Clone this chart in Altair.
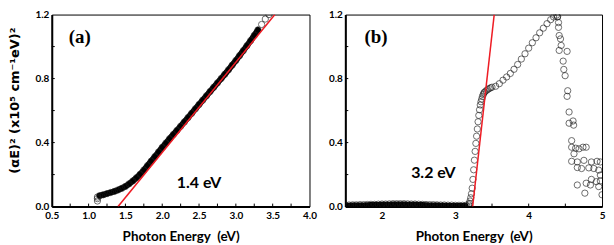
import altair as alt
import pandas as pd

# ---------------- panel (a) data ----------------
a_energy = [1.12, 1.15, 1.20, 1.25, 1.30, 1.35, 1.40, 1.45, 1.50, 1.55, 1.60, 1.65,
            1.70, 1.75, 1.80, 1.85, 1.90, 1.95, 2.00, 2.05, 2.10, 2.15, 2.20, 2.25,
            2.30, 2.35, 2.40, 2.45, 2.50, 2.55, 2.60, 2.65, 2.70, 2.75, 2.80, 2.85,
            2.90, 2.95, 3.00, 3.05, 3.10, 3.15, 3.20, 3.25, 3.30, 3.35, 3.40, 3.45]
a_value = [0.060, 0.068, 0.074, 0.081, 0.088, 0.095, 0.104, 0.114, 0.126, 0.142, 0.160, 0.180,
           0.202, 0.228, 0.256, 0.284, 0.312, 0.341, 0.370, 0.397, 0.424, 0.450, 0.476, 0.502,
           0.529, 0.556, 0.583, 0.611, 0.638, 0.665, 0.692, 0.719, 0.746, 0.773, 0.800, 0.827,
           0.855, 0.884, 0.913, 0.943, 0.974, 1.005, 1.037, 1.070, 1.104, 1.138, 1.172, 1.200]
a_extra_energy = [1.12, 1.12]
a_extra_value = [0.035, 0.050]
a_fit_energy = [1.40, 3.53]
a_fit_value = [0.0, 1.2]

# ---------------- panel (b) data ----------------
b_energy = [1.50, 1.55, 1.60, 1.65, 1.70, 1.75, 1.80, 1.85, 1.90, 1.95, 2.00, 2.05,
            2.10, 2.15, 2.20, 2.25, 2.30, 2.35, 2.40, 2.45, 2.50, 2.55, 2.60, 2.65,
            2.70, 2.75, 2.80, 2.85, 2.90, 2.95, 3.00, 3.05, 3.10, 3.15,
            3.18, 3.19, 3.20, 3.21, 3.22, 3.23, 3.24, 3.25, 3.26, 3.27, 3.28, 3.29,
            3.30, 3.31, 3.32, 3.33, 3.34, 3.35, 3.36, 3.37, 3.38, 3.39, 3.40, 3.42,
            3.44, 3.46, 3.48, 3.50, 3.55, 3.60, 3.65, 3.70, 3.75, 3.80, 3.85, 3.90,
            3.95, 4.00, 4.05, 4.10, 4.15, 4.20, 4.25, 4.30, 4.34, 4.38]
b_value = [0.010, 0.010, 0.011, 0.011, 0.012, 0.012, 0.013, 0.014, 0.014, 0.015, 0.016, 0.016,
           0.017, 0.018, 0.018, 0.018, 0.018, 0.017, 0.016, 0.016, 0.015, 0.014, 0.013, 0.012,
           0.012, 0.011, 0.010, 0.010, 0.009, 0.009, 0.008, 0.008, 0.008, 0.009,
           0.012, 0.020, 0.035, 0.055, 0.080, 0.115, 0.170, 0.230, 0.290, 0.345, 0.395, 0.440,
           0.485, 0.530, 0.570, 0.605, 0.635, 0.655, 0.672, 0.688, 0.700, 0.710, 0.716, 0.724,
           0.731, 0.737, 0.742, 0.746, 0.752, 0.768, 0.790, 0.810, 0.832, 0.858, 0.888, 0.922,
           0.955, 0.990, 1.024, 1.055, 1.086, 1.115, 1.143, 1.168, 1.185, 1.196]
b_tail_energy = [4.394, 4.407, 4.407, 4.416, 4.434, 4.443, 4.524, 4.470, 4.479, 4.497,
                 4.532, 4.524, 4.551, 4.551, 4.605, 4.613, 4.586, 4.586, 4.640, 4.686,
                 4.740, 4.784, 4.618, 4.586, 4.663, 4.753, 4.855, 4.932, 4.977, 4.663,
                 4.721, 4.820, 4.888, 4.955, 4.977, 4.855, 4.923, 4.977, 4.663, 4.784,
                 4.842, 4.766, 4.955, 5.000, 4.416]
b_tail_value = [1.186, 1.150, 1.120, 1.069, 1.048, 1.007, 0.970, 0.909, 0.857, 0.818,
                0.724, 0.689, 0.591, 0.521, 0.535, 0.509, 0.412, 0.371, 0.365, 0.361,
                0.371, 0.371, 0.330, 0.283, 0.279, 0.289, 0.279, 0.283, 0.279, 0.244,
                0.238, 0.242, 0.238, 0.228, 0.197, 0.170, 0.156, 0.160, 0.135, 0.146,
                0.135, 0.084, 0.125, 0.074, 0.976]
b_fit_energy = [3.236, 3.53]
b_fit_value = [0.0, 1.2]

# ---------------- axes / labels ----------------
a_xlabels = [0.5, 1.0, 1.5, 2.0, 2.5, 3.0, 3.5, 4.0]
a_xticks = [0.75, 1.0, 1.25, 1.5, 1.75, 2.0, 2.25, 2.5, 2.75, 3.0, 3.25, 3.5, 3.75]
b_xlabels = [2, 3, 4, 5]
b_xticks = [2.0, 2.5, 3.0, 3.5, 4.0, 4.5]
ylabels = [0.0, 0.4, 0.8, 1.2]
yticks = [0.2, 0.4, 0.6, 0.8, 1.0]

a_text = pd.DataFrame({"e": [2.50], "v": [0.15], "t": ["1.4 eV"]})
b_text = pd.DataFrame({"e": [2.70], "v": [0.21], "t": ["3.2 eV"]})
a_tag = pd.DataFrame({"e": [0.73], "v": [1.06], "t": ["(a)"]})
b_tag = pd.DataFrame({"e": [1.76], "v": [1.06], "t": ["(b)"]})

W_A, W_B, H = 259, 258, 193
SANS = "Lato"
XTITLE = "Photon Energy\u00a0 (eV)"
YTITLE = "(\u03b1E)\u00b2 (x10\u2075 cm\u207b\u00b9eV)\u00b2"


def panel(df, extra, fit, xdom, xlabels, xfmt, xticks, line_filter, line_w,
          text_df, tag_df, width, ytitle):
    xs = alt.Scale(domain=xdom, nice=False, zero=False)
    ys = alt.Scale(domain=[0, 1.2], nice=False, zero=False)
    xaxis = alt.Axis(values=xlabels, format=xfmt, ticks=False, grid=False,
                     domain=True, domainWidth=2, domainColor="black",
                     labelFont=SANS, labelFontWeight="bold", labelFontSize=10,
                     labelColor="black", labelPadding=4, labelFlush=False,
                     labelOverlap=False,
                     title=XTITLE, titleFont=SANS, titleFontWeight="bold",
                     titleFontSize=13.5, titleColor="black", titlePadding=9)
    yargs = dict(values=ylabels, format=".1f", ticks=False, grid=False,
                 domain=True, domainWidth=2, domainColor="black",
                 labelFont=SANS, labelFontWeight="bold", labelFontSize=10,
                 labelColor="black", labelPadding=3, labelOverlap=False)
    if ytitle:
        yargs.update(title=ytitle, titleFont="DejaVu Sans", titleFontWeight="bold",
                     titleFontSize=13, titleColor="black", titlePadding=13, titleY=86)
    else:
        yargs.update(title=None)
    yaxis = alt.Axis(**yargs)

    def X(f="e"):
        return alt.X(f + ":Q", scale=xs, axis=xaxis)

    def Y(f="v"):
        return alt.Y(f + ":Q", scale=ys, axis=yaxis)

    base = alt.Chart(df)
    band = base.transform_filter(line_filter).mark_line(
        color="black", strokeWidth=line_w, strokeCap="round", clip=True
    ).encode(x=X(), y=Y(), order="e:Q")
    pts = base.mark_point(shape="circle", filled=False, size=40, stroke="#1a1a1a",
                          strokeWidth=0.9, clip=True).encode(x=X(), y=Y())
    pts2 = alt.Chart(extra).mark_point(shape="circle", filled=False, size=40,
                                       stroke="#1a1a1a", strokeWidth=0.9, clip=True).encode(
        x=X(), y=Y())
    fitl = alt.Chart(fit).mark_line(color="#ee1c24", strokeWidth=1.5, clip=True).encode(
        x=X(), y=Y())
    xt = alt.Chart(pd.DataFrame({"e": xticks})).mark_rule(color="black", strokeWidth=1).encode(
        x=X(), y=alt.value(H), y2=alt.value(H - 3))
    yt = alt.Chart(pd.DataFrame({"v": yticks})).mark_rule(color="black", strokeWidth=1).encode(
        y=Y(), x=alt.value(0), x2=alt.value(3))
    txt = alt.Chart(text_df).mark_text(font=SANS, fontWeight="bold", fontSize=16,
                                       color="black", align="center", baseline="middle").encode(
        x=X(), y=Y(), text="t:N")
    tag = alt.Chart(tag_df).mark_text(font="Liberation Serif", fontWeight="bold", fontSize=19,
                                      color="black", align="left", baseline="middle").encode(
        x=X(), y=Y(), text="t:N")
    return alt.layer(band, pts, pts2, fitl, xt, yt, txt, tag).properties(width=width, height=H)


dfa = pd.DataFrame({"e": a_energy, "v": a_value})
exa = pd.DataFrame({"e": a_extra_energy, "v": a_extra_value})
fita = pd.DataFrame({"e": a_fit_energy, "v": a_fit_value})
dfb = pd.DataFrame({"e": b_energy + b_tail_energy, "v": b_value + b_tail_value})
exb = pd.DataFrame({"e": b_tail_energy[:1], "v": b_tail_value[:1]})
fitb = pd.DataFrame({"e": b_fit_energy, "v": b_fit_value})

pa = panel(dfa, exa, fita, [0.5, 4.0], a_xlabels, ".1f", a_xticks,
           "datum.e >= 1.14 && datum.e <= 3.32", 6, a_text, a_tag, W_A, YTITLE)
pb = panel(dfb, exb, fitb, [1.5, 5.0], b_xlabels, "d", b_xticks,
           "datum.e <= 3.16", 4.5, b_text, b_tag, W_B, None)

chart = alt.hconcat(pa, pb, spacing=36, bounds="flush").properties(
    padding={"left": 0, "top": 0, "right": 0, "bottom": 0}, background="white"
).configure_view(stroke="black", strokeWidth=1)

chart.save("out.html", embed_options={"renderer": "svg", "actions": False})
